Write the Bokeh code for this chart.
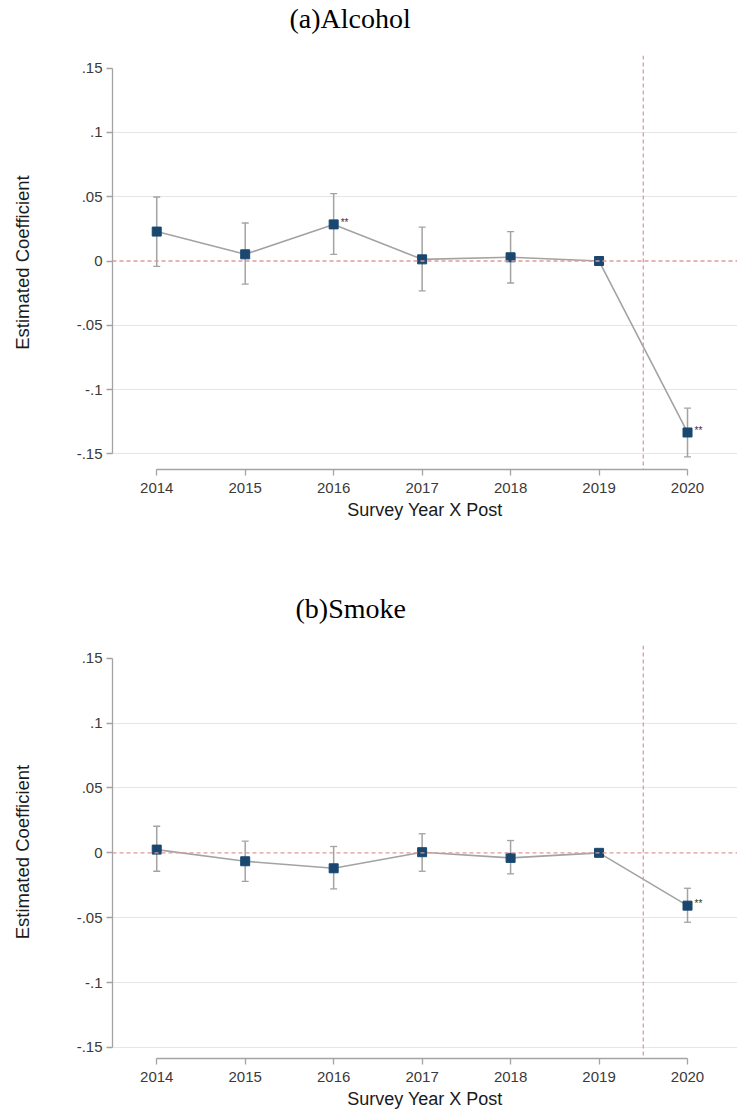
from bokeh.plotting import figure
from bokeh.models import ColumnDataSource, FixedTicker, Span, Whisker, TeeHead, Title, Range1d
from bokeh.layouts import column
from bokeh.embed import file_html
from bokeh.resources import INLINE
from bokeh.core.properties import value

# ---------------- data ----------------
years = [2014, 2015, 2016, 2017, 2018, 2019, 2020]
year_labels = ["2014", "2015", "2016", "2017", "2018", "2019", "2020"]

alcohol_coef = [0.0229, 0.0052, 0.0285, 0.0013, 0.0029, 0.0, -0.1334]
alcohol_lo = [-0.0041, -0.0180, 0.0052, -0.0233, -0.0171, None, -0.1524]
alcohol_hi = [0.0498, 0.0296, 0.0524, 0.0264, 0.0229, None, -0.1145]
alcohol_stars = ["", "", "**", "", "", "", "**"]

smoke_coef = [0.0025, -0.0065, -0.0119, 0.0005, -0.0039, 0.0, -0.0407]
smoke_lo = [-0.0142, -0.0220, -0.0278, -0.0142, -0.0162, None, -0.0535]
smoke_hi = [0.0205, 0.0090, 0.0049, 0.0147, 0.0095, None, -0.0273]
smoke_stars = ["", "", "", "", "", "", "**"]

y_ticks = [0.15, 0.1, 0.05, 0.0, -0.05, -0.1, -0.15]
y_tick_labels = [".15", ".1", ".05", "0", "-.05", "-.1", "-.15"]
grid_ticks = [0.1, 0.05, -0.05, -0.1, -0.15]
event_x = 2019.5

titles = ["(a)Alcohol", "(b)Smoke"]
x_title = "Survey Year X Post"
y_title = "Estimated Coefficient"

SANS = "Liberation Sans"
SERIF = "Liberation Serif"
GREY = "#a3a3a3"
NAVY = "#1a476f"
RED = "#dd9a9a"


def panel(title, title_offset, coef, lo, hi, stars, height, yr, border_bottom):
    p = figure(width=737, height=height, output_backend="svg", toolbar_location=None,
               x_range=Range1d(2013.5, 2020.565), y_range=Range1d(*yr),
               min_border_left=112, min_border_right=0, min_border_top=55,
               min_border_bottom=border_bottom)
    p.outline_line_color = None
    p.background_fill_color = "white"
    p.border_fill_color = "white"

    # spacer between title and plot area (nearest the frame)
    spacer = Title(text=" ", text_font_size="1px", standoff=19, text_color="white")
    p.add_layout(spacer, "above")
    t = Title(text=title, align="left", offset=title_offset, text_font=SERIF,
              text_font_size="28px", text_font_style="normal", text_color="black",
              standoff=0)
    p.add_layout(t, "above")

    # axes
    p.xaxis.ticker = FixedTicker(ticks=years)
    p.xaxis.major_label_overrides = {y: l for y, l in zip(years, year_labels)}
    p.yaxis.ticker = FixedTicker(ticks=y_ticks)
    p.yaxis.major_label_overrides = {y: l for y, l in zip(y_ticks, y_tick_labels)}
    p.xaxis.bounds = (years[0], years[-1])
    p.yaxis.bounds = (min(y_ticks), max(y_ticks))
    for ax in (p.xaxis[0], p.yaxis[0]):
        ax.axis_line_color = GREY
        ax.axis_line_width = 1.3
        ax.major_tick_line_color = GREY
        ax.major_tick_line_width = 1.3
        ax.major_tick_out = 6
        ax.major_tick_in = 0
        ax.minor_tick_line_color = None
        ax.major_label_text_font = SANS
        ax.major_label_text_font_size = "15px"
        ax.major_label_text_color = "#3a3a3a"
        ax.axis_label_text_font = SANS
        ax.axis_label_text_font_style = "normal"
        ax.axis_label_text_color = "#1a1a1a"
        ax.axis_label_text_font_size = "18px"
    p.yaxis.axis_label_text_font_size = "18.5px"
    p.xaxis.axis_label = x_title
    p.yaxis.axis_label = y_title
    p.xaxis.major_label_standoff = 7
    p.xaxis.axis_label_standoff = 4
    p.yaxis.major_label_standoff = 4
    p.yaxis.axis_label_standoff = 41
    p.yaxis.major_label_orientation = "horizontal"

    # grid
    p.xgrid.grid_line_color = None
    p.ygrid.ticker = FixedTicker(ticks=grid_ticks)
    p.ygrid.grid_line_color = "#cccccc"
    p.ygrid.grid_line_dash = "1 1"
    p.ygrid.grid_line_width = 1

    # reference lines
    p.add_layout(Span(location=0, dimension="width", line_color=RED,
                      line_dash="4 3", line_width=1.3))
    p.add_layout(Span(location=event_x, dimension="height", line_color=RED,
                      line_dash="4 3", line_width=1.3))

    # confidence intervals
    ci_x = [y for y, l in zip(years, lo) if l is not None]
    ci_lo = [l for l in lo if l is not None]
    ci_hi = [h for h in hi if h is not None]
    ci_src = ColumnDataSource(dict(base=ci_x, lower=ci_lo, upper=ci_hi))
    w = Whisker(source=ci_src, base="base", lower="lower", upper="upper",
                line_color=GREY, line_width=1.5,
                upper_head=TeeHead(size=7, line_color=GREY, line_width=1.3),
                lower_head=TeeHead(size=7, line_color=GREY, line_width=1.3))
    p.add_layout(w)

    src = ColumnDataSource(dict(x=years, y=coef, s=stars))
    p.line("x", "y", source=src, line_color=GREY, line_width=1.6)
    p.scatter("x", "y", source=src, marker="square", size=9,
              fill_color=NAVY, line_color=NAVY)
    p.text("x", "y", text="s", source=src, x_offset=7, y_offset=-2,
           text_font=value(SANS), text_font_size="10px", text_color="#333333",
           text_baseline="middle", text_align="left")
    return p


p1 = panel(titles[0], 177, alcohol_coef, alcohol_lo, alcohol_hi, alcohol_stars,
           590, (-0.1622, 0.1599), 121)
p2 = panel(titles[1], 183, smoke_coef, smoke_lo, smoke_hi, smoke_stars,
           522, (-0.1585, 0.1598), 54)

layout = column(p1, p2, spacing=0)
open("out.html", "w").write(file_html(layout, INLINE))
